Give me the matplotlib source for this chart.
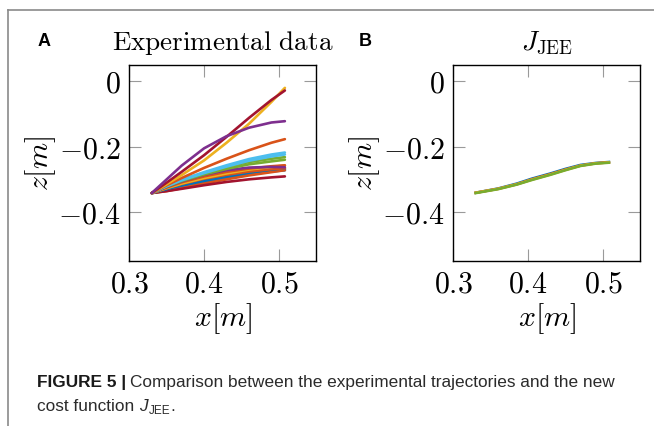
import matplotlib
matplotlib.use("Agg")
import matplotlib.pyplot as plt
from matplotlib.lines import Line2D

plt.rcParams['mathtext.fontset'] = 'cm'

# trajectories (x in m, z in m)
x_exp = [0.33, 0.35, 0.37, 0.40, 0.43, 0.46, 0.49, 0.508]
z_exp = {
    'blue1':   [-0.342, -0.334, -0.324, -0.309, -0.296, -0.285, -0.276, -0.272],
    'blue2':   [-0.342, -0.332, -0.321, -0.306, -0.293, -0.282, -0.274, -0.270],
    'blue3':   [-0.342, -0.330, -0.318, -0.302, -0.289, -0.278, -0.270, -0.266],
    'orange1': [-0.342, -0.318, -0.296, -0.265, -0.237, -0.211, -0.188, -0.177],
    'orange2': [-0.342, -0.327, -0.314, -0.298, -0.286, -0.276, -0.269, -0.266],
    'orange3': [-0.342, -0.336, -0.327, -0.313, -0.300, -0.288, -0.278, -0.272],
    'orange4': [-0.342, -0.325, -0.309, -0.291, -0.277, -0.267, -0.260, -0.257],
    'yellow1': [-0.342, -0.315, -0.287, -0.242, -0.188, -0.130, -0.063, -0.020],
    'yellow2': [-0.342, -0.327, -0.313, -0.296, -0.282, -0.270, -0.262, -0.258],
    'purple1': [-0.342, -0.300, -0.258, -0.205, -0.168, -0.142, -0.126, -0.122],
    'purple2': [-0.342, -0.323, -0.306, -0.286, -0.272, -0.264, -0.262, -0.263],
    'green1':  [-0.342, -0.320, -0.302, -0.280, -0.262, -0.247, -0.237, -0.232],
    'green2':  [-0.342, -0.322, -0.305, -0.285, -0.268, -0.254, -0.245, -0.240],
    'lblue1':  [-0.342, -0.320, -0.301, -0.278, -0.257, -0.238, -0.224, -0.218],
    'lblue2':  [-0.342, -0.321, -0.303, -0.281, -0.261, -0.243, -0.230, -0.224],
    'red1':    [-0.342, -0.310, -0.277, -0.226, -0.170, -0.112, -0.057, -0.028],
    'red2':    [-0.342, -0.336, -0.329, -0.318, -0.308, -0.300, -0.294, -0.291],
}
x_jee = [0.33, 0.36, 0.385, 0.405, 0.43, 0.45, 0.47, 0.49, 0.508]
z_jee = {
    'blue':   [-0.341, -0.328, -0.313, -0.298, -0.282, -0.268, -0.256, -0.250, -0.247],
    'orange': [-0.341, -0.329, -0.315, -0.300, -0.284, -0.270, -0.258, -0.251, -0.248],
    'yellow': [-0.341, -0.329, -0.315, -0.301, -0.285, -0.271, -0.258, -0.251, -0.248],
    'green':  [-0.342, -0.330, -0.316, -0.302, -0.286, -0.272, -0.259, -0.252, -0.249],
}
xticks = [0.3, 0.4, 0.5]
yticks = [0, -0.2, -0.4]
xticklabels = ['$0.3$', '$0.4$', '$0.5$']
yticklabels = ['$0$', '$-0.2$', '$-0.4$']

colors = {
    'blue': '#0072BD', 'orange': '#D95319', 'yellow': '#EDB120',
    'purple': '#7E2F8E', 'green': '#77AC30', 'lblue': '#4DBEEE', 'red': '#A2142F',
}

fig = plt.figure(figsize=(6.54, 4.26), dpi=100)
W, H = 654, 426

def make_axes(left_px):
    ax = fig.add_axes([left_px / W, (H - 261) / H, 187 / W, 196 / H])
    ax.set_xlim(0.3, 0.55)
    ax.set_ylim(-0.55, 0.05)
    ax.set_xticks(xticks)
    ax.set_xticklabels(xticklabels)
    ax.set_yticks(yticks)
    ax.set_yticklabels(yticklabels)
    ax.tick_params(direction='in', length=8.5, width=0.8, color='#9a9a9a',
                   top=True, right=True, labelsize=21.5, pad=6)
    for s in ax.spines.values():
        s.set_linewidth(1.0)
    ax.set_xlabel('$x[m]$', fontsize=21.5, labelpad=2)
    ax.set_ylabel('$z[m]$', fontsize=21.5, labelpad=0)
    return ax

axA = make_axes(129.3)
order = ['blue1', 'blue2', 'orange3', 'red2', 'blue3', 'orange2', 'yellow2', 'orange4',
         'purple2', 'green2', 'green1', 'lblue2', 'lblue1', 'orange1', 'yellow1',
         'red1', 'purple1']
for k in order:
    c = colors[k.rstrip('0123456789')]
    axA.plot(x_exp, z_exp[k], color=c, lw=1.9, solid_capstyle='round',
             solid_joinstyle='round')
axA.set_title(r'$\mathrm{Experimental\ data}$', fontsize=19.5, pad=11)

axB = make_axes(453.3)
for k in ['blue', 'orange', 'yellow', 'green']:
    axB.plot(x_jee, z_jee[k], color=colors[k], lw=1.9, solid_joinstyle='round')
axB.set_title(r'$J_{\mathrm{JEE}}$', fontsize=19.5, pad=11)

# panel letters
fig.text(38 / W, 1 - 46 / H, 'A', fontsize=13, fontweight='bold', family='Liberation Sans')
fig.text(359 / W, 1 - 46 / H, 'B', fontsize=13, fontweight='bold', family='Liberation Sans')

# page frame lines
fig.add_artist(Line2D([7.5 / W, 1], [1 - 10 / H, 1 - 10 / H], color='#8a8a8a', lw=1.2))
fig.add_artist(Line2D([7.5 / W, 7.5 / W], [0, 1 - 10 / H], color='#8a8a8a', lw=1.2))

# caption
cap_font = ['Liberation Sans Narrow', 'Liberation Sans', 'DejaVu Sans']
fs = 12.4
fig.canvas.draw()
r = fig.canvas.get_renderer()
t1 = fig.text(37 / W, 1 - 387 / H, 'FIGURE 5 |', fontsize=fs, fontweight='bold',
              family=cap_font, color='#1a1a1a')
bb = t1.get_window_extent(renderer=r)
fig.text((bb.x1 + 4) / W, 1 - 387 / H,
         'Comparison between the experimental trajectories and the new',
         fontsize=fs, family=cap_font, color='#2b2b2b')
t3 = fig.text(37 / W, 1 - 411 / H, 'cost function ', fontsize=fs, family=cap_font,
              color='#2b2b2b')
bb = t3.get_window_extent(renderer=r)
t4 = fig.text(bb.x1 / W, 1 - 411 / H, 'J', fontsize=fs, style='italic',
              family=cap_font, color='#2b2b2b')
bb = t4.get_window_extent(renderer=r)
t5 = fig.text((bb.x1 + 1) / W, 1 - 414 / H, 'JEE', fontsize=8.5, family=cap_font,
              color='#2b2b2b')
bb = t5.get_window_extent(renderer=r)
fig.text(bb.x1 / W, 1 - 411 / H, '.', fontsize=fs, family=cap_font, color='#2b2b2b')

fig.savefig('out.png', dpi=100)
